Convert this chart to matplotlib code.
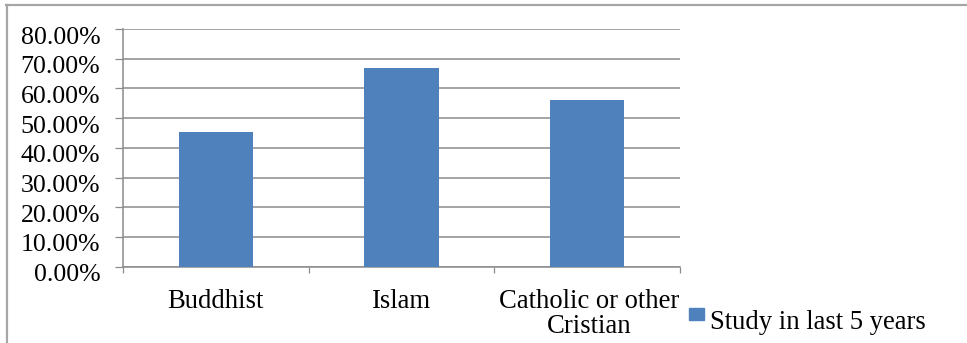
import matplotlib
matplotlib.use("Agg")
import matplotlib.pyplot as plt
import matplotlib.transforms as mtransforms
from matplotlib.lines import Line2D
from matplotlib.patches import Rectangle
import numpy as np

categories = ["Buddhist", "Islam", "Catholic or other\nCristian"]
study_last_5_years = [0.453, 0.669, 0.561]
y_ticks = [0.0, 0.1, 0.2, 0.3, 0.4, 0.5, 0.6, 0.7, 0.8]
y_tick_labels = ["0.00%", "10.00%", "20.00%", "30.00%", "40.00%",
                 "50.00%", "60.00%", "70.00%", "80.00%"]
series_name = "Study in last 5 years"

W, H = 967, 343
DPI = 100
plt.rcParams["font.family"] = ["Liberation Serif", "DejaVu Serif"]

fig = plt.figure(figsize=(W / DPI, H / DPI), dpi=DPI)
fig.patch.set_facecolor("white")

def fx(px):
    return px / W

def fy(py):
    return 1 - py / H

# chart area border (top and left edges)
frame_color = "#a6a6a6"
fig.add_artist(Line2D([fx(6.5), fx(6.5)], [fy(5), fy(343)], color=frame_color, lw=1.6))
fig.add_artist(Line2D([fx(6), fx(967)], [fy(5), fy(5)], color=frame_color, lw=1.6))

left, right, top, bottom = 123, 680, 29, 266.7
ax = fig.add_axes([fx(left), fy(bottom), fx(right - left), (bottom - top) / H])

x = np.arange(len(categories))
bar_color = "#4f81bd"
ax.bar(x, study_last_5_years, width=0.4, color=bar_color, zorder=3)

ax.set_xlim(-0.5, len(categories) - 0.5)
ax.set_ylim(0, 0.8)

grid_color = "#8c8c8c"
ax.set_yticks(y_ticks)
ax.set_yticklabels(y_tick_labels, fontsize=18.6)
ax.yaxis.grid(True, color=grid_color, lw=1.1, zorder=1)
ax.tick_params(axis="y", length=5.8, width=0.9, color=grid_color, pad=10.5)

# value labels sit slightly below their gridlines
shift = mtransforms.ScaledTranslation(0, -6 / DPI, fig.dpi_scale_trans)
for lbl in ax.get_yticklabels():
    lbl.set_transform(lbl.get_transform() + shift)

# boundaries between categories carry the tick marks
ax.set_xticks(np.arange(len(categories) + 1) - 0.5)
ax.set_xticklabels([])
ax.tick_params(axis="x", length=4.3, width=0.9, color=grid_color)

for side in ("top", "right"):
    ax.spines[side].set_visible(False)
for side in ("left", "bottom"):
    ax.spines[side].set_color(grid_color)
    ax.spines[side].set_linewidth(1.1)

# category labels below the axis
for i, label in enumerate(categories):
    lines = label.split("\n")
    for j, line in enumerate(lines):
        ax.annotate(line, xy=(i, 0), xycoords="data",
                    xytext=(2 if len(lines) > 1 else 0, -(308 - bottom) - j * 25),
                    textcoords="offset pixels",
                    ha="center", va="baseline", fontsize=19.2, color="black",
                    annotation_clip=False)

# legend entry
fig.add_artist(Rectangle((fx(689), fy(320)), fx(704) - fx(689), fy(308) - fy(320),
                         transform=fig.transFigure, color=bar_color))
fig.text(fx(710), fy(329), series_name, fontsize=19.2, ha="left", va="baseline")

fig.savefig("out.png", dpi=DPI, facecolor="white")
